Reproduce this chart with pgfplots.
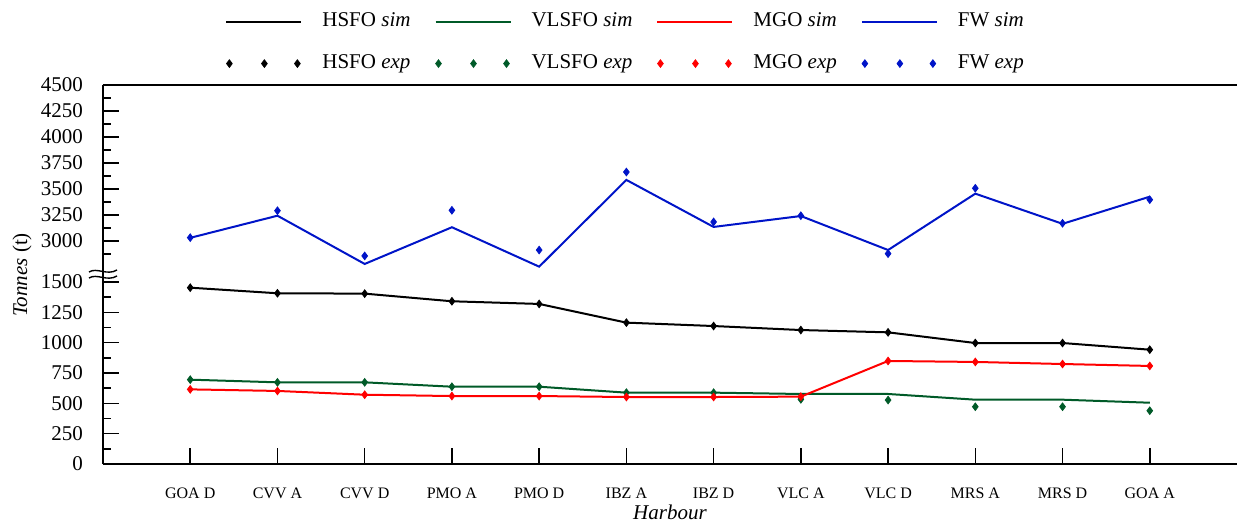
\documentclass[border=0pt]{standalone}
\usepackage{fontspec}
\setmainfont{Liberation Serif}
\usepackage{pgfplots}
\pgfplotsset{compat=1.18}
\definecolor{hsfo}{RGB}{0,0,0}
\definecolor{vlsfo}{RGB}{0,90,40}
\definecolor{mgo}{RGB}{255,0,0}
\definecolor{fw}{RGB}{0,20,200}

\begin{document}
\begin{tikzpicture}
\path[use as bounding box] (-51.5pt,-30.5pt) rectangle (567pt,232pt);
\pgfplotsset{
  common/.style={
    scale only axis, width=567pt, xmin=-1, xmax=12,
    axis line style={line width=1pt},
    every tick/.style={black, line width=0.8pt},
    major tick length=8pt, minor tick length=4pt,
    tick align=inside,
    /pgf/number format/assume math mode=true,
    /pgf/number format/1000 sep={},
    yticklabel style={font=\fontsize{10.5}{12}\selectfont, xshift=-6.5pt},
  },
  sim/.style={line width=1pt, mark=none},
  exp/.style={only marks, mark=diamond*, mark size=1.9pt},
  simleg/.style={legend image code/.code={\draw[##1] (0pt,0pt) -- (37.5pt,0pt);}},
  expleg/.style={legend image code/.code={\draw[##1] plot coordinates {(1.5pt,0pt) (19pt,0pt) (35.5pt,0pt)};}},
}
% ---------------- lower axis ----------------
\begin{axis}[common, at={(0,0)}, anchor=south west, height=95.5pt,
  ymin=0, ymax=1574,
  axis x line*=bottom, axis y line*=left,
  ytick={0,250,500,750,1000,1250,1500},
  yticklabels={0,250,500,750,1000,1250,1500},
  minor ytick={125,375,...,1375},
  xtick={0,...,11},
  xticklabels={GOA D, CVV A, CVV D, PMO A, PMO D, IBZ A, IBZ D, VLC A, VLC D, MRS A, MRS D, GOA A},
  xticklabel style={font=\fontsize{8}{9.6}\selectfont, yshift=-8.5pt},
  xlabel={\textit{Harbour}},
  xlabel style={at={(axis description cs:0.5,0)}, anchor=north, yshift=-17pt, font=\fontsize{10.5}{12}\selectfont},
]
\addplot[sim, hsfo, forget plot] coordinates {(0,1453) (1,1407) (2,1404) (3,1341) (4,1319) (5,1165) (6,1137) (7,1104) (8,1085) (9,997) (10,997) (11,942)};
\addplot[sim, vlsfo, forget plot] coordinates {(0,695) (1,673) (2,673) (3,637) (4,637) (5,588) (6,588) (7,577) (8,577) (9,530) (10,530) (11,505)};
\addplot[sim, mgo, forget plot] coordinates {(0,615) (1,602) (2,571) (3,560) (4,560) (5,552) (6,552) (7,555) (8,849) (9,841) (10,824) (11,808)};
\addplot[exp, hsfo, forget plot] coordinates {(0,1453) (1,1407) (2,1404) (3,1341) (4,1319) (5,1165) (6,1137) (7,1104) (8,1085) (9,997) (10,997) (11,942)};
\addplot[exp, vlsfo, forget plot] coordinates {(0,695) (1,673) (2,673) (3,637) (4,637) (5,588) (6,588) (7,533) (8,527) (9,472) (10,472) (11,439)};
\addplot[exp, mgo, forget plot] coordinates {(0,615) (1,602) (2,571) (3,560) (4,560) (5,552) (6,552) (7,555) (8,849) (9,841) (10,824) (11,808)};
\end{axis}
% ---------------- upper axis ----------------
\begin{axis}[common, at={(0,95.5pt)}, anchor=south west, height=94pt,
  ymin=2692, ymax=4500,
  axis x line*=top, axis y line*=left, xtick=\empty,
  ytick={3000,3250,3500,3750,4000,4250,4500},
  yticklabels={3000,3250,3500,3750,4000,4250,4500},
  minor ytick={2875,3125,...,4375},
  legend columns=4, legend cell align=left,
  legend style={draw=none, fill=none, inner sep=0pt,
    at={(axis description cs:0,1)}, anchor=south west, xshift=61pt, yshift=5.5pt,
    font=\fontsize{10.5}{12}\selectfont,
    nodes={inner sep=0pt, text height=7.5pt, text depth=2.5pt},
    /tikz/row sep=11pt,
    /tikz/every odd column/.append style={column sep=10pt},
    /tikz/every even column/.append style={column sep=12pt}},
]
\addlegendimage{sim, hsfo, simleg}
\addlegendentry{HSFO \textit{sim}}
\addlegendimage{sim, vlsfo, simleg}
\addlegendentry{VLSFO \textit{sim}}
\addlegendimage{sim, mgo, simleg}
\addlegendentry{MGO \textit{sim}}
\addlegendimage{sim, fw, simleg}
\addlegendentry{FW \textit{sim}}
\addlegendimage{exp, hsfo, expleg}
\addlegendentry{HSFO \textit{exp}}
\addlegendimage{exp, vlsfo, expleg}
\addlegendentry{VLSFO \textit{exp}}
\addlegendimage{exp, mgo, expleg}
\addlegendentry{MGO \textit{exp}}
\addlegendimage{exp, fw, expleg}
\addlegendentry{FW \textit{exp}}
\addplot[sim, fw, forget plot] coordinates {(0,3030) (1,3243) (2,2779) (3,3132) (4,2753) (5,3587) (6,3135) (7,3240) (8,2913) (9,3455) (10,3165) (11,3426)};
\addplot[exp, fw, forget plot] coordinates {(0,3032) (1,3291) (2,2856) (3,3295) (4,2913) (5,3663) (6,3183) (7,3243) (8,2878) (9,3507) (10,3170) (11,3397)};
\end{axis}
% axis break marks and y label
\draw[line width=0.7pt] (-7pt,96pt) .. controls (-3pt,98.5pt) and (2pt,94pt) .. (7pt,97pt);
\draw[line width=0.7pt] (-7pt,93pt) .. controls (-3pt,95.5pt) and (2pt,91pt) .. (7pt,94pt);
\node[rotate=90, font=\fontsize{10.5}{12}\selectfont] at (-40.5pt,94.5pt) {\textit{Tonnes} (t)};
\end{tikzpicture}
\end{document}
